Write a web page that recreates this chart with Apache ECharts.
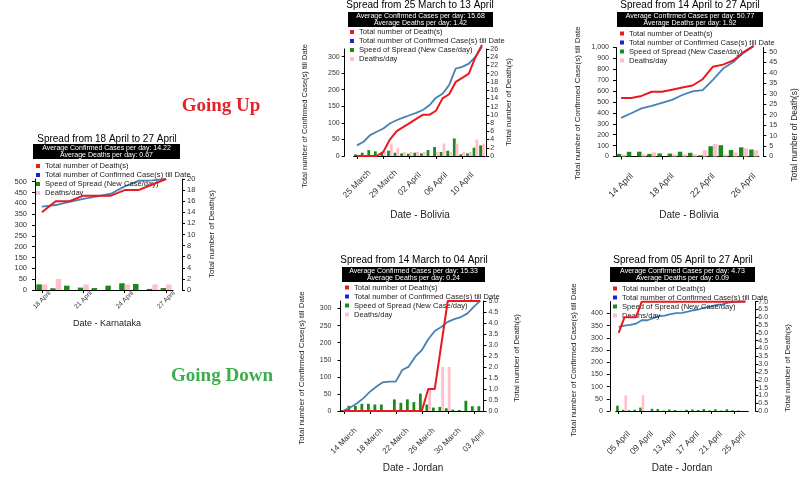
<!DOCTYPE html>
<html>
<head>
<meta charset="utf-8">
<script src="https://cdn.jsdelivr.net/npm/echarts@6/dist/echarts.min.js"></script>
<style>
  html, body { margin: 0; padding: 0; background: #fff; }
  #chart { width: 803px; height: 480px; }
</style>
</head>
<body>
<div id="chart"></div>
<script>
// ---- data ----
// Karnataka, 18 April to 27 April
var kaDates = ['18 April', '19 April', '20 April', '21 April', '22 April', '23 April', '24 April', '25 April', '26 April', '27 April'];
var kaConfirmed = [385, 392, 406, 420, 432, 444, 478, 504, 506, 512];
var kaNewCases = [26, 8, 20, 11, 9, 20, 31, 28, 5, 9];
var kaDeaths = [14, 16, 16, 17, 17, 17, 18, 18, 19, 20];
var kaDeathsDay = [1, 2, 0, 1, 0, 0, 1, 0, 1, 1];
var kaAvg = ['14.22', '0.67'];

// Bolivia, 25 March to 13 April
var bo1Dates = ['25 March', '26 March', '27 March', '28 March', '29 March', '30 March', '31 March', '01 April', '02 April', '03 April',
  '04 April', '05 April', '06 April', '07 April', '08 April', '09 April', '10 April', '11 April', '12 April', '13 April'];
var bo1Confirmed = [32, 43, 63, 73, 83, 98, 108, 116, 123, 130, 139, 153, 176, 188, 214, 264, 269, 279, 299, 330];
var bo1NewCases = [5, 10, 18, 14, 10, 16, 10, 8, 7, 10, 8, 18, 27, 12, 16, 53, 5, 8, 25, 32];
var bo1Deaths = [0, 0, 0, 0, 1, 4, 6, 7, 8, 9, 10, 10, 11, 14, 15, 18, 19, 20, 24, 27];
var bo1DeathsDay = [0, 0, 0, 0, 1, 3, 2, 1, 1, 1, 1, 0, 1, 3, 1, 3, 1, 1, 4, 3];
var bo1Avg = ['15.68', '1.42'];

// Bolivia, 14 April to 27 April
var bo2Dates = ['14 April', '15 April', '16 April', '17 April', '18 April', '19 April', '20 April', '21 April', '22 April', '23 April',
  '24 April', '25 April', '26 April', '27 April'];
var bo2Confirmed = [354, 397, 441, 465, 493, 520, 564, 598, 609, 703, 807, 866, 950, 1014];
var bo2NewCases = [24, 43, 44, 24, 28, 27, 44, 34, 11, 94, 104, 59, 84, 64];
var bo2Deaths = [28, 28, 29, 31, 31, 32, 33, 34, 37, 43, 44, 46, 50, 53];
var bo2DeathsDay = [1, 0, 1, 2, 0, 1, 1, 1, 3, 6, 1, 2, 4, 3];
var bo2Avg = ['50.77', '1.92'];

// Jordan, 14 March to 04 April
var jo1Dates = ['14 March', '15 March', '16 March', '17 March', '18 March', '19 March', '20 March', '21 March', '22 March', '23 March',
  '24 March', '25 March', '26 March', '27 March', '28 March', '29 March', '30 March', '31 March', '01 April', '02 April',
  '03 April', '04 April'];
var jo1Confirmed = [1, 10, 22, 37, 56, 71, 84, 86, 86, 120, 130, 159, 178, 210, 234, 246, 261, 269, 275, 285, 305, 323];
var jo1NewCases = [3, 15, 15, 21, 21, 19, 19, 3, 34, 24, 34, 26, 51, 19, 10, 12, 8, 4, 3, 30, 14, 14];
var jo1Deaths = [0, 0, 0, 0, 0, 0, 0, 0, 0, 0, 0, 0, 0, 1, 1, 3, 5, 5, 5, 5, 5, 5];
var jo1DeathsDay = [0, 0, 0, 0, 0, 0, 0, 0, 0, 0, 0, 0, 0, 1, 0, 2, 2, 0, 0, 0, 0, 0];
var jo1Avg = ['15.33', '0.24'];

// Jordan, 05 April to 27 April
var jo2Dates = ['05 April', '06 April', '07 April', '08 April', '09 April', '10 April', '11 April', '12 April', '13 April', '14 April',
  '15 April', '16 April', '17 April', '18 April', '19 April', '20 April', '21 April', '22 April', '23 April', '24 April',
  '25 April', '26 April', '27 April'];
var jo2Confirmed = [345, 350, 353, 358, 372, 372, 381, 389, 391, 397, 401, 402, 407, 413, 417, 425, 428, 435, 437, 444, 447, 449, 449];
var jo2NewCases = [22, 5, 3, 5, 14, 0, 9, 8, 2, 6, 4, 1, 5, 6, 4, 8, 3, 7, 2, 7, 3, 2, 0];
var jo2Deaths = [5, 6, 6, 6, 7, 7, 7, 7, 7, 7, 7, 7, 7, 7, 7, 7, 7, 7, 7, 7, 7, 7, 7];
var jo2DeathsDay = [0, 1, 0, 0, 1, 0, 0, 0, 0, 0, 0, 0, 0, 0, 0, 0, 0, 0, 0, 0, 0, 0, 0];
var jo2Avg = ['4.73', '0.09'];

var seriesNames = ['Total number of Death(s)', 'Total number of Confirmed Case(s) till Date', 'Speed of Spread (New Case/day)', 'Deaths/day'];
var legendColors = ['#e8191f', '#1f1fd8', '#1a8a1a', '#ffc0cb'];

// ---- layout of the five panels ----
var FONT = 'Liberation Sans, Arial, sans-serif';
var panels = [
  { dates: kaDates, confirmed: kaConfirmed, newCases: kaNewCases, deaths: kaDeaths, deathsDay: kaDeathsDay, avg: kaAvg,
    title: 'Spread from 18 April to 27 April', place: 'Karnataka',
    grid: [35, 179, 138, 111], lMax: 512, lInt: 50, lOff: 0, lMargin: 8, rMax: 20, rInt: 2, rOff: 9, rMargin: 5, rDec: 0,
    yFont: 7.5, every: 3, xMargin: 10, xFont: 6.5, bar: 5.5, titleAt: [107, 140], box: [33, 144, 147, 15],
    legendAt: [36, 162], leftName: null, rightName: [212, 234, 8], xName: [107, 324, 9] },
  { dates: bo1Dates, confirmed: bo1Confirmed, newCases: bo1NewCases, deaths: bo1Deaths, deathsDay: bo1DeathsDay, avg: bo1Avg,
    title: 'Spread from 25 March to 13 April', place: 'Bolivia',
    grid: [353.7, 49, 131.6, 107], lMax: 323, lInt: 50, lOff: 9, lMargin: 5, rMax: 26, rInt: 2, rOff: 1, rMargin: 4, rDec: 0,
    yFont: 7, every: 4, xMargin: 28, xFont: 8.5, bar: 2.8, titleAt: [420, 6], box: [348, 12, 145, 15],
    legendAt: [350, 28], leftName: [305, 116, 7.5], rightName: [509, 102, 8], xName: [420, 215, 10] },
  { dates: bo2Dates, confirmed: bo2Confirmed, newCases: bo2NewCases, deaths: bo2Deaths, deathsDay: bo2DeathsDay, avg: bo2Avg,
    title: 'Spread from 14 April to 27 April', place: 'Bolivia',
    grid: [616, 47.5, 142.8, 109], lMax: 1000, lInt: 100, lOff: 0, lMargin: 7, rMax: 52.2, rInt: 5, rOff: 4.5, rMargin: 6, rDec: 0,
    yFont: 7, every: 4, xMargin: 29, xFont: 9, bar: 4.5, titleAt: [690, 6], box: [617, 12, 146, 15],
    legendAt: [620, 29.5], leftName: [578, 103, 8], rightName: [795, 135, 8.5], xName: [689, 215, 10] },
  { dates: jo1Dates, confirmed: jo1Confirmed, newCases: jo1NewCases, deaths: jo1Deaths, deathsDay: jo1DeathsDay, avg: jo1Avg,
    title: 'Spread from 14 March to 04 April', place: 'Jordan',
    grid: [340.5, 301, 143, 110], lMax: 322, lInt: 50, lOff: 0, lMargin: 9, rMax: 5, rInt: 0.5, rOff: 0, rMargin: 5, rDec: 1,
    yFont: 7, every: 4, xMargin: 30, xFont: 8, bar: 2.8, titleAt: [414, 261], box: [342, 267, 143, 15],
    legendAt: [345, 283.5], leftName: [302, 368, 8], rightName: [517, 358, 8], xName: [413, 468, 10] },
  { dates: jo2Dates, confirmed: jo2Confirmed, newCases: jo2NewCases, deaths: jo2Deaths, deathsDay: jo2DeathsDay, avg: jo2Avg,
    title: 'Spread from 05 April to 27 April', place: 'Jordan',
    grid: [615.8, 301.7, 132.5, 109.3], lMax: 448, lInt: 50, lOff: 6, lMargin: 7, rMax: 7, rInt: 0.5, rOff: 7, rMargin: 3, rDec: 1,
    yFont: 7, every: 4, xMargin: 32, xFont: 8.5, bar: 2.5, titleAt: [683, 261], box: [610, 267, 145, 15],
    legendAt: [613, 284.5], leftName: [574, 360, 8], rightName: [788, 368, 8], xName: [682, 468, 10] }
];

var option = {
  animation: false,
  backgroundColor: '#fff',
  title: [], legend: [], grid: [], xAxis: [], yAxis: [], series: [], graphic: []
};

function vText(x, y, text, size) {
  return { type: 'text', x: x, y: y, rotation: Math.PI / 2, z: 10,
    style: { text: text, fontSize: size, fontFamily: FONT, fill: '#222',
      align: 'center', verticalAlign: 'middle', textAlign: 'center', textVerticalAlign: 'middle' } };
}

function axisBase() {
  return {
    axisLine: { show: true, lineStyle: { color: '#000', width: 1 } },
    axisTick: { show: true, length: 3, lineStyle: { color: '#000' } },
    splitLine: { show: false }
  };
}

panels.forEach(function (p, i) {
  option.grid.push({ left: p.grid[0], top: p.grid[1], width: p.grid[2], height: p.grid[3] });

  option.xAxis.push(Object.assign(axisBase(), {
    type: 'category', gridIndex: i, data: p.dates, boundaryGap: true,
    axisTick: { show: true, alignWithLabel: true, interval: p.every - 1, length: 3, lineStyle: { color: '#000' } },
    axisLabel: { interval: p.every - 1, rotate: 45, align: 'center', verticalAlign: 'middle',
      margin: p.xMargin, fontSize: p.xFont, fontFamily: FONT, color: '#333' }
  }));

  option.yAxis.push(Object.assign(axisBase(), {
    type: 'value', gridIndex: i, position: 'left', min: 0, max: p.lMax, interval: p.lInt, offset: p.lOff,
    axisLabel: { margin: p.lMargin, fontSize: p.yFont, fontFamily: FONT, color: '#333',
      showMaxLabel: p.lMax % p.lInt === 0,
      formatter: function (v) { return v >= 1000 ? v.toLocaleString('en-US') : String(v); } }
  }));
  option.yAxis.push(Object.assign(axisBase(), {
    type: 'value', gridIndex: i, position: 'right', min: 0, max: p.rMax, interval: p.rInt, offset: p.rOff,
    axisLabel: { margin: p.rMargin, fontSize: p.yFont, fontFamily: FONT, color: '#333',
      showMaxLabel: Math.abs(p.rMax / p.rInt - Math.round(p.rMax / p.rInt)) < 1e-6,
      formatter: function (v) { return v.toFixed(p.rDec); } }
  }));

  var yl = 2 * i, yr = 2 * i + 1;
  option.series.push({ name: seriesNames[2], type: 'bar', xAxisIndex: i, yAxisIndex: yl, data: p.newCases,
    barWidth: p.bar, barGap: '0%', itemStyle: { color: '#1a8a1a' } });
  option.series.push({ name: seriesNames[3], type: 'bar', xAxisIndex: i, yAxisIndex: yr, data: p.deathsDay,
    barWidth: p.bar, barGap: '0%', itemStyle: { color: '#ffc0cb' } });
  option.series.push({ name: seriesNames[1], type: 'line', xAxisIndex: i, yAxisIndex: yl, data: p.confirmed,
    symbol: 'none', clip: false, lineStyle: { color: '#4682b4', width: 1.8 }, itemStyle: { color: '#4682b4' }, z: 3 });
  option.series.push({ name: seriesNames[0], type: 'line', xAxisIndex: i, yAxisIndex: yr, data: p.deaths,
    symbol: 'none', clip: false, lineStyle: { color: '#e8191f', width: 2 }, itemStyle: { color: '#e8191f' }, z: 4 });

  option.legend.push({
    orient: 'vertical', left: p.legendAt[0], top: p.legendAt[1], padding: 0, itemGap: 1,
    itemWidth: 4, itemHeight: 4, icon: 'rect', selectedMode: false,
    textStyle: { fontSize: 7.6, lineHeight: 5, fontFamily: FONT, color: '#222' },
    data: seriesNames.map(function (n, k) { return { name: n, itemStyle: { color: legendColors[k] } }; })
  });

  option.title.push({ text: p.title, left: p.titleAt[0], top: p.titleAt[1] - 6, textAlign: 'center', padding: 0,
    textStyle: { fontSize: 10, fontWeight: 'normal', fontFamily: FONT, color: '#000' } });

  var b = p.box;
  option.graphic.push({ type: 'rect', shape: { x: b[0], y: b[1], width: b[2], height: b[3] }, style: { fill: '#000' }, z: 5 });
  option.graphic.push({ type: 'text', x: b[0] + b[2] / 2, y: b[1] + b[3] / 2, z: 6,
    style: { text: 'Average Confirmed Cases per day: ' + p.avg[0] + '\nAverage Deaths per day: ' + p.avg[1],
      fontSize: 7, lineHeight: 7, fontFamily: FONT, fill: '#fff',
      align: 'center', verticalAlign: 'middle', textAlign: 'center', textVerticalAlign: 'middle' } });

  if (p.leftName) option.graphic.push(vText(p.leftName[0], p.leftName[1], seriesNames[1], p.leftName[2]));
  option.graphic.push(vText(p.rightName[0], p.rightName[1], seriesNames[0], p.rightName[2]));
  option.graphic.push({ type: 'text', x: p.xName[0], y: p.xName[1], z: 10,
    style: { text: 'Date - ' + p.place, fontSize: p.xName[2], fontFamily: FONT, fill: '#222',
      align: 'center', verticalAlign: 'middle', textAlign: 'center', textVerticalAlign: 'middle' } });
});

option.graphic.push({ type: 'text', x: 221, y: 106, z: 10,
  style: { text: 'Going Up', fontSize: 19, fontWeight: 'bold', fontFamily: 'Liberation Serif, Times New Roman, serif',
    fill: '#e3242b', align: 'center', verticalAlign: 'middle', textAlign: 'center', textVerticalAlign: 'middle' } });
option.graphic.push({ type: 'text', x: 222, y: 376, z: 10,
  style: { text: 'Going Down', fontSize: 19, fontWeight: 'bold', fontFamily: 'Liberation Serif, Times New Roman, serif',
    fill: '#3aae4a', align: 'center', verticalAlign: 'middle', textAlign: 'center', textVerticalAlign: 'middle' } });

var chart = echarts.init(document.getElementById('chart'));
chart.setOption(option);
</script>
</body>
</html>
